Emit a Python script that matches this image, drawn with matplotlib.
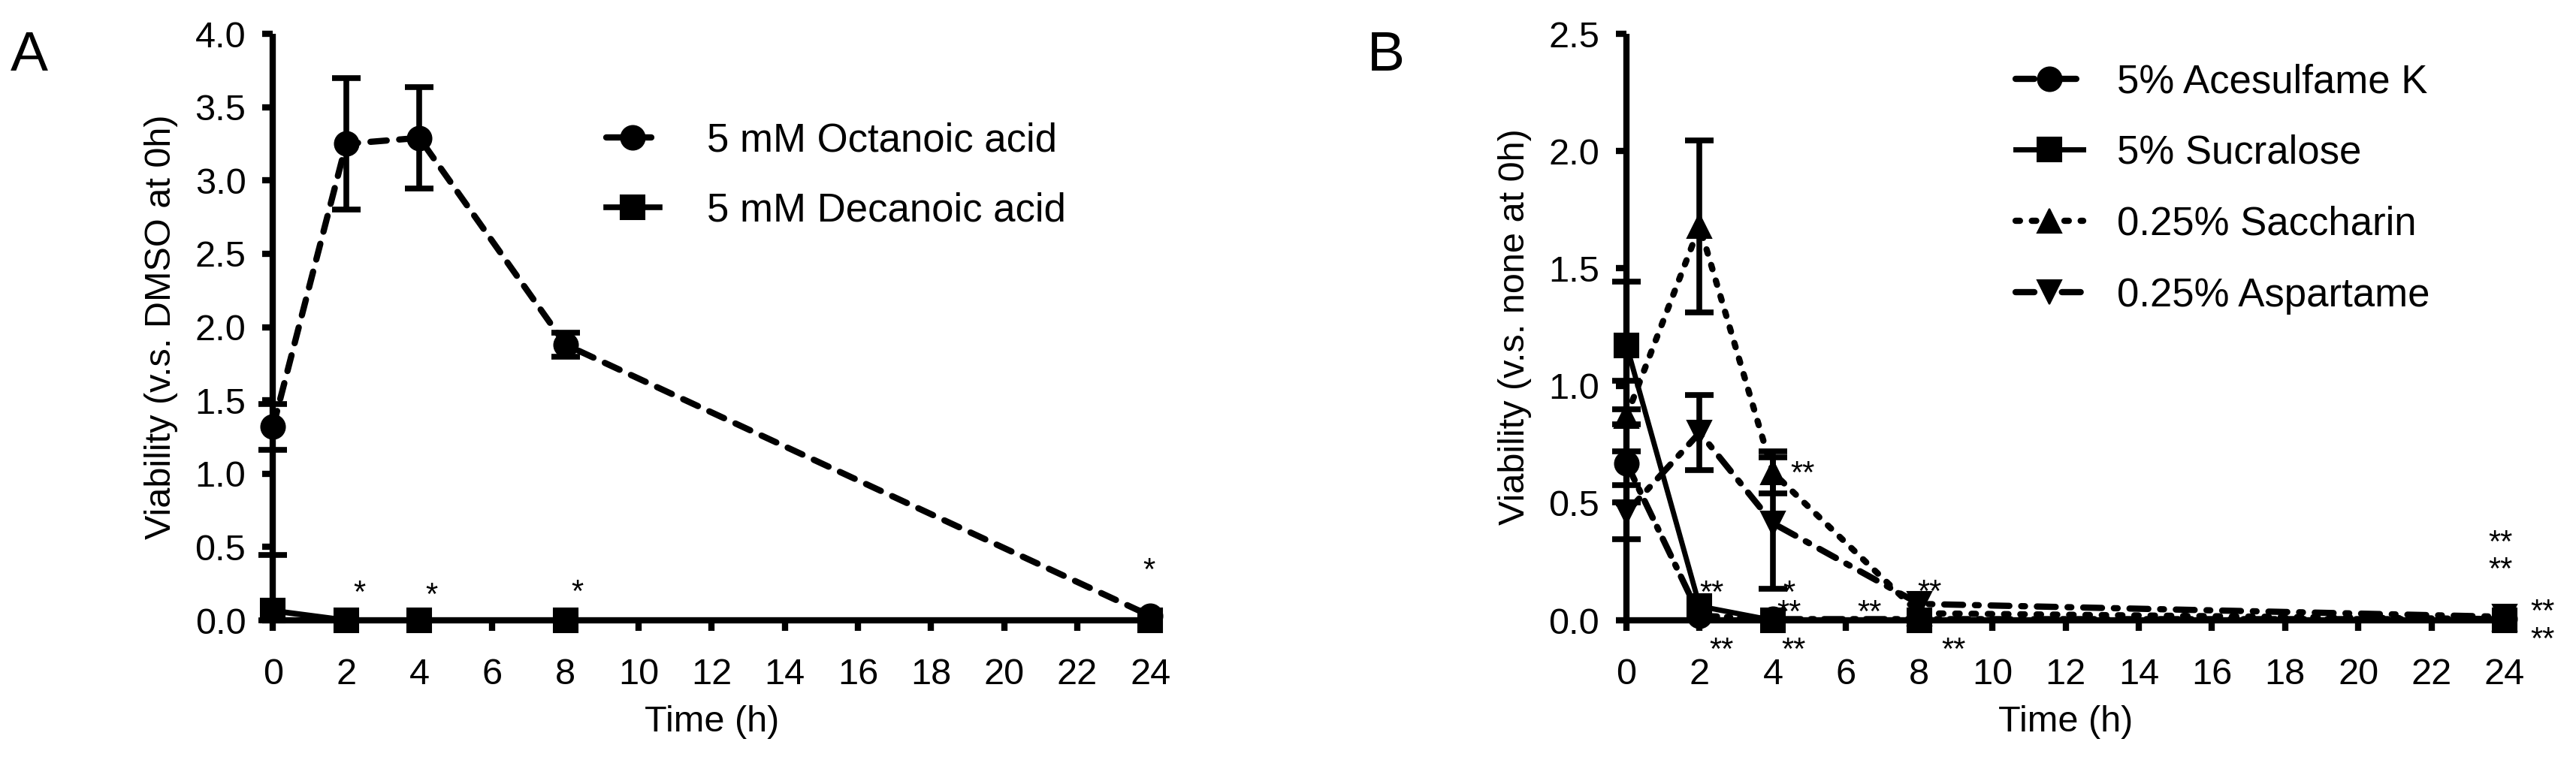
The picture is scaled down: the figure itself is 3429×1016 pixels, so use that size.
import numpy as np
import matplotlib
matplotlib.use("Agg")
import matplotlib.pyplot as plt

plt.rcParams['font.family'] = ['Liberation Sans', 'DejaVu Sans']

# ---- data ----
time_h = [0, 2, 4, 8, 24]
x_ticks = list(range(0, 25, 2))

# panel A
octanoic = [1.32, 3.25, 3.29, 1.88, 0.03]
octanoic_err = [0.156, 0.45, 0.345, 0.08, 0.0]
decanoic = [0.065, 0.0, 0.0, 0.0, 0.0]
decanoic_err = [0.38, 0.0, 0.0, 0.0, 0.0]
a_yticks = [0.0, 0.5, 1.0, 1.5, 2.0, 2.5, 3.0, 3.5, 4.0]
a_stars = ["*", "*", "*", "*"]
a_star_x = [2.36, 4.33, 8.32, 23.96]
a_star_y = [0.247, 0.23, 0.254, 0.398]

# panel B
acesulfame = [0.67, 0.02, 0.005, 0.005, 0.005]
acesulfame_err = [0.166, 0.0, 0.0, 0.0, 0.0]
sucralose = [1.173, 0.06, 0.0, 0.0, 0.0]
sucralose_err = [0.272, 0.0, 0.0, 0.0, 0.0]
saccharin = [0.87, 1.68, 0.63, 0.03, 0.005]
saccharin_err = [0.15, 0.366, 0.09, 0.0, 0.0]
aspartame = [0.46, 0.80, 0.414, 0.07, 0.015]
aspartame_err = [0.115, 0.16, 0.28, 0.0, 0.0]
b_yticks = [0.0, 0.5, 1.0, 1.5, 2.0, 2.5]
# stacked labels are anchored at their lowest line
b_stars = ["**", "**", "**", "*\n**", "**", "**", "**", "**", "**\n**", "**\n**"]
b_star_x = [2.33, 2.59, 4.81, 4.45, 4.56, 6.65, 8.28, 8.94, 23.89, 25.03]
b_star_y = [0.155, -0.09, 0.663, 0.072, -0.09, 0.072, 0.159, -0.09, 0.254, -0.043]
b_star_spacing = [1, 1, 1, 0.55, 1, 1, 1, 1, 0.85, 0.9]

TICK_FS = 35
LEG_FS = 38
STAR_FS = 30
MS = 23


def style_axes(ax, yticks, ylabel):
    ax.spines[['right', 'top']].set_visible(False)
    for s in ['left', 'bottom']:
        ax.spines[s].set_linewidth(6)
        ax.spines[s].set_capstyle('butt')
    ax.set_xlim(0, 24)
    ax.set_ylim(yticks[0], yticks[-1])
    ax.set_xticks(x_ticks)
    ax.set_yticks(yticks)
    ax.set_yticklabels([f"{v:.1f}" for v in yticks])
    ax.tick_params(direction='out', length=10, width=6, labelsize=TICK_FS)
    ax.tick_params(axis='y', pad=16)
    ax.tick_params(axis='x', pad=26)
    ax.set_xlabel("Time (h)", fontsize=TICK_FS)
    ax.set_ylabel(ylabel, fontsize=TICK_FS)
    ax.xaxis.set_label_coords(0.5, -0.145)
    ax.yaxis.set_label_coords(-0.108, 0.5)


def series(ax, y, err, marker, ls, lw):
    y = np.asarray(y)
    err = np.asarray(err)
    lower = np.minimum(err, y)
    mask = err > 0
    cont = ax.errorbar(np.asarray(time_h)[mask], y[mask],
                       yerr=[lower[mask], err[mask]], fmt='none',
                       ecolor='black', elinewidth=5.5, capsize=13.5, capthick=5.5)
    for art in cont.get_children():
        art.set_clip_on(False)
    line, = ax.plot(time_h, y, color='black', linestyle=ls, linewidth=lw,
                    marker=marker, markersize=MS, markeredgewidth=1.5,
                    dash_capstyle='round', clip_on=False, zorder=3)
    return line


def stars(ax, labels, xs, ys, spacing=None):
    if spacing is None:
        spacing = [1] * len(labels)
    for s, x, y, ls in zip(labels, xs, ys, spacing):
        ax.annotate(s, (x, y), xytext=(0, -0.58 * STAR_FS), textcoords='offset points',
                    ha='center', va='baseline', fontsize=STAR_FS, linespacing=ls,
                    annotation_clip=False)


fig = plt.figure(figsize=(34.29, 10.16), dpi=100)

# ---- panel A ----
axA = fig.add_axes([0.1060, 0.1870, 0.3406, 0.7687])
style_axes(axA, a_yticks, "Viability (v.s. DMSO at 0h)")
h1 = series(axA, octanoic, octanoic_err, 'o', (0, (2.6, 2.0)), 6)
h2 = series(axA, decanoic, decanoic_err, 's', '-', 5.5)
stars(axA, a_stars, a_star_x, a_star_y)
axA.legend([h1, h2], ["5 mM Octanoic acid", "5 mM Decanoic acid"],
           loc='upper left', bbox_to_anchor=(0.2353, 0.8396),
           bbox_transform=fig.transFigure, frameon=False, fontsize=LEG_FS,
           handlelength=1.35, handletextpad=1.2, labelspacing=0.8,
           borderpad=0, borderaxespad=0, numpoints=1)

# ---- panel B ----
axB = fig.add_axes([0.6314, 0.1870, 0.3409, 0.7687])
style_axes(axB, b_yticks, "Viability (v.s. none at 0h)")
g1 = series(axB, acesulfame, acesulfame_err, 'o', (0, (3, 1.6, 0.5, 1.6)), 6)
g3 = series(axB, saccharin, saccharin_err, '^', (0, (0.7, 1.9)), 6)
g4 = series(axB, aspartame, aspartame_err, 'v', (0, (3, 1.9, 0.6, 1.9)), 6)
g2 = series(axB, sucralose, sucralose_err, 's', '-', 5)
stars(axB, b_stars, b_star_x, b_star_y, b_star_spacing)
axB.legend([g1, g2, g3, g4],
           ["5% Acesulfame K", "5% Sucralose", "0.25% Saccharin", "0.25% Aspartame"],
           loc='upper left', bbox_to_anchor=(0.7825, 0.9173),
           bbox_transform=fig.transFigure, frameon=False, fontsize=LEG_FS,
           handlelength=1.7, handletextpad=0.85, labelspacing=0.85,
           borderpad=0, borderaxespad=0, numpoints=1)

fig.text(14 / 3429, 1 - 40 / 1016, "A", fontsize=54, ha='left', va='top')
fig.text(1820 / 3429, 1 - 40 / 1016, "B", fontsize=54, ha='left', va='top')

fig.savefig("out.png", dpi=100)
